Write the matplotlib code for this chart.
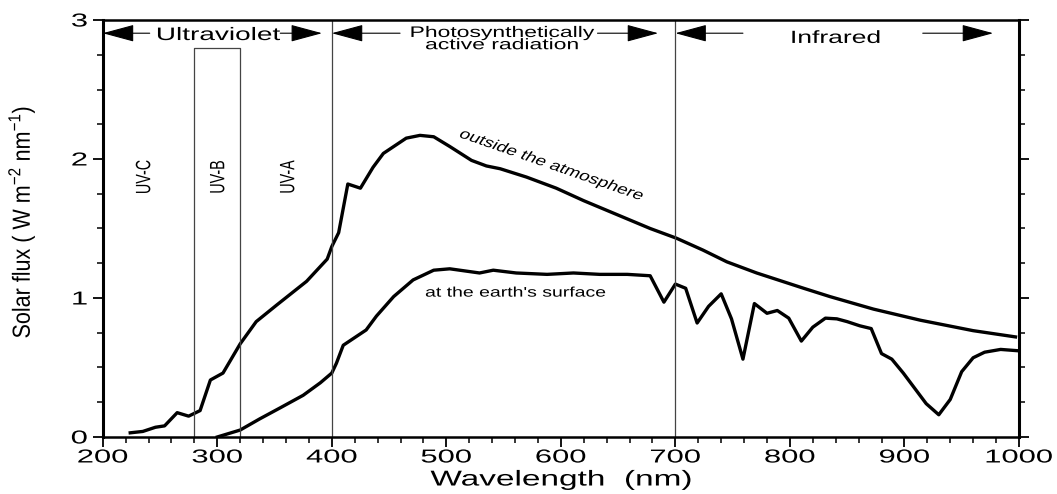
import matplotlib
matplotlib.use("Agg")
import matplotlib.pyplot as plt
from matplotlib.patheffects import AbstractPathEffect
from matplotlib.transforms import Affine2D
from matplotlib.ticker import MultipleLocator

# ---------------- data ----------------
outside_wl = [224, 235, 246, 254, 265, 275, 285, 294, 305, 320,
              334, 352, 378, 396, 400, 406, 414, 425, 436, 445,
              465, 477, 489, 503, 522, 535, 547, 570, 596, 620,
              649, 678, 701, 724, 745, 771, 812, 835, 873, 914,
              960, 997]
outside_flux = [0.03, 0.04, 0.07, 0.08, 0.175, 0.15, 0.19, 0.41, 0.46, 0.67,
                0.83, 0.95, 1.12, 1.28, 1.37, 1.47, 1.82, 1.79, 1.94, 2.04,
                2.15, 2.17, 2.16, 2.09, 1.99, 1.95, 1.93, 1.87, 1.79, 1.70,
                1.60, 1.50, 1.43, 1.345, 1.26, 1.18, 1.07, 1.01, 0.92, 0.84,
                0.765, 0.72]

surface_wl = [300, 320, 337, 355, 375, 390, 400, 404, 410, 430,
              439, 454, 471, 489, 503, 529, 541, 561, 588, 611,
              634, 658, 678, 690, 700, 709, 719, 729, 740, 749,
              759, 769, 780, 789, 799, 810, 820, 831, 841, 850,
              861, 871, 880, 889, 899, 919, 930, 940, 950, 960,
              970, 984, 1000]
surface_flux = [0.0, 0.05, 0.13, 0.21, 0.30, 0.39, 0.46, 0.53, 0.66, 0.77,
                0.87, 1.01, 1.13, 1.20, 1.21, 1.18, 1.20, 1.18, 1.17, 1.18,
                1.17, 1.17, 1.16, 0.97, 1.10, 1.07, 0.82, 0.94, 1.03, 0.85,
                0.56, 0.96, 0.89, 0.91, 0.855, 0.69, 0.79, 0.855, 0.85, 0.83,
                0.80, 0.78, 0.60, 0.56, 0.46, 0.24, 0.16, 0.27, 0.47, 0.57,
                0.61, 0.63, 0.62]

band_edges = [200, 400, 700, 1000]          # UV | PAR | IR
band_names = ["Ultraviolet", "Photosynthetically", "Infrared"]
uvb_edges = [280, 320]
uv_labels = ["UV-C", "UV-B", "UV-A"]
x_ticks = [200, 300, 400, 500, 600, 700, 800, 900, 1000]
y_ticks = [0, 1, 2, 3]


# ---------------- helper: horizontally stretched text ----------------
class HStretch(AbstractPathEffect):
    """Stretch the drawn glyphs along the display x direction."""
    def __init__(self, sx, anchor="center"):
        super().__init__()
        self.sx = sx
        self.anchor = anchor

    def draw_path(self, renderer, gc, tpath, affine, rgbFace=None):
        ext = tpath.get_extents(affine)
        if self.anchor == "right":
            x0 = ext.x1
        elif self.anchor == "left":
            x0 = ext.x0
        else:
            x0 = 0.5 * (ext.x0 + ext.x1)
        t = affine + Affine2D().translate(-x0, 0).scale(self.sx, 1).translate(x0, 0)
        renderer.draw_path(gc, tpath, t, rgbFace)


plt.rcParams["font.family"] = ["Liberation Sans", "DejaVu Sans"]

fig = plt.figure(figsize=(10.57, 4.94), dpi=100)
ax = fig.add_axes([0.0972, 0.1154, 0.8668, 0.8441])

# curves
ax.plot(outside_wl, outside_flux, color="black", lw=2.4, solid_joinstyle="round")
ax.plot(surface_wl, surface_flux, color="black", lw=2.4, solid_joinstyle="round")

# region separators
for xv in band_edges[1:3]:
    ax.plot([xv, xv], [0, 3], color="#444444", lw=0.9)
ax.plot([uvb_edges[0], uvb_edges[0], uvb_edges[1], uvb_edges[1]],
        [0, 2.8, 2.8, 0], color="#444444", lw=0.9)

ax.set_xlim(200, 1000)
ax.set_ylim(0, 3)
ax.set_xticks(x_ticks)
ax.set_yticks(y_ticks)
ax.xaxis.set_minor_locator(MultipleLocator(20))
ax.yaxis.set_minor_locator(MultipleLocator(0.25))
ax.tick_params(axis="x", which="major", direction="out", length=7, width=1.3,
               labelsize=13.5, pad=2)
ax.tick_params(axis="x", which="minor", direction="out", length=4.5, width=1.1)
ax.tick_params(axis="y", which="major", direction="out", length=7, width=1.3,
               labelsize=13.5, pad=4, right=True)
ax.tick_params(axis="y", which="minor", direction="out", length=4.5, width=1.1,
               right=True)
for side, w in [("left", 2.2), ("bottom", 1.8), ("top", 1.8), ("right", 2.2)]:
    ax.spines[side].set_linewidth(w)

for lab in ax.get_xticklabels():
    lab.set_path_effects([HStretch(1.65, "center")])
for lab in ax.get_yticklabels():
    lab.set_path_effects([HStretch(1.65, "right")])

xl = ax.set_xlabel("Wavelength  (nm)", fontsize=15.5)
ax.xaxis.set_label_coords(0.5, -0.078)
xl.set_path_effects([HStretch(1.55, "center")])
yl = ax.set_ylabel("Solar flux ( W m$^{\\mathregular{-2}}$ nm$^{\\mathregular{-1}}$)",
                   fontsize=15.5)
ax.yaxis.set_label_coords(-0.073, 0.515)
yl.set_path_effects([HStretch(1.15, "center")])

# header arrows
arrow_kw = dict(arrowstyle="-|>,head_length=1.0,head_width=0.27",
                mutation_scale=20, lw=0.8, color="black", shrinkA=0, shrinkB=0)
y_arr = 2.905
for tail, tip in [(241, 200), (355, 391.5), (459.6, 400), (632, 685),
                  (759, 700), (916, 977.5)]:
    ax.annotate("", xy=(tip, y_arr), xytext=(tail, y_arr), arrowprops=arrow_kw)

t = ax.text(301, 2.856, band_names[0], fontsize=13, ha="center", va="baseline")
t.set_path_effects([HStretch(1.55, "center")])
t = ax.text(548.6, 2.878, band_names[1], fontsize=11, ha="center", va="baseline")
t.set_path_effects([HStretch(1.5, "center")])
t = ax.text(548.6, 2.79, "active radiation", fontsize=11, ha="center", va="baseline")
t.set_path_effects([HStretch(1.5, "center")])
t = ax.text(840, 2.835, band_names[2], fontsize=12.7, ha="center", va="baseline")
t.set_path_effects([HStretch(1.5, "center")])

for xv, lab in zip([236, 300.7, 361.8], uv_labels):
    t = ax.text(xv, 1.87, lab, fontsize=10.3, rotation=90, ha="center", va="center")
    t.set_path_effects([HStretch(1.45, "center")])

t = ax.text(592, 1.957, "outside the atmosphere", fontsize=10, rotation=-26,
            rotation_mode="anchor", ha="center", va="center")
t.set_path_effects([HStretch(1.4, "center")])
t = ax.text(560.7, 1.01, "at the earth's surface", fontsize=10, ha="center",
            va="baseline")
t.set_path_effects([HStretch(1.4, "center")])

fig.savefig("out.png", dpi=100)
